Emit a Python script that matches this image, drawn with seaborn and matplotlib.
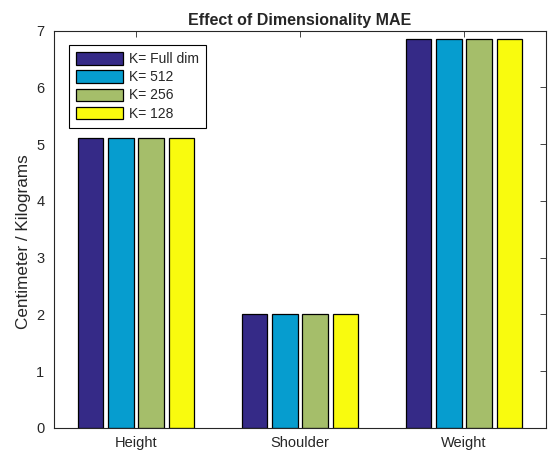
#!/usr/bin/env python3
import pandas as pd
import seaborn as sns
import matplotlib
matplotlib.use('Agg')
import matplotlib.pyplot as plt

# values
measures = ['Height', 'Shoulder', 'Weight']
dims = ['K= Full dim', 'K= 512', 'K= 256', 'K= 128']
mae_full = [5.10, 2.00, 6.85]
mae_512 = [5.10, 2.00, 6.85]
mae_256 = [5.10, 2.00, 6.85]
mae_128 = [5.10, 2.00, 6.85]
yticks = [0, 1, 2, 3, 4, 5, 6, 7]

colors = ['#352a87', '#069dcf', '#a5be6a', '#f9fb0e']  # parula-ish
axis_gray = '#262626'

rows = []
for dim, vals in zip(dims, [mae_full, mae_512, mae_256, mae_128]):
    for m, v in zip(measures, vals):
        rows.append({'measure': m, 'dim': dim, 'mae': v})
df = pd.DataFrame(rows)

sns.set_style('white')
plt.rcParams['font.family'] = ['Liberation Sans', 'DejaVu Sans']

fig = plt.figure(figsize=(5.58, 4.54), dpi=100)
ax = fig.add_axes([0.0968, 0.0573, 0.8817, 0.8755])

sns.barplot(
    data=df, x='measure', y='mae', hue='dim', order=measures, hue_order=dims,
    palette=colors, width=0.74, gap=0.15, edgecolor='black', linewidth=0.9,
    saturation=1, errorbar=None, ax=ax,
)

ax.set_xlim(-0.5, 2.5)
ax.set_ylim(0, 7)
ax.set_yticks(yticks)
ax.set(xlabel=None)
ax.set_ylabel('Centimeter / Kilograms', fontsize=12.3, color=axis_gray)
ax.yaxis.set_label_coords(-0.047, 0.468)
ax.set_title('Effect of Dimensionality MAE', fontsize=11.5, fontweight='bold', pad=4)

for s in ax.spines.values():
    s.set_color(axis_gray)
    s.set_linewidth(0.8)
ax.tick_params(direction='in', length=4, width=0.6, colors=axis_gray,
               labelsize=10.5, top=True, right=True)
ax.tick_params(axis='y', pad=7)
ax.tick_params(axis='x', pad=6)

leg = ax.legend(loc='upper left', bbox_to_anchor=(0.03, 0.963), borderaxespad=0,
                fontsize=10, handlelength=3.4, handleheight=1.0, labelspacing=0.3,
                handletextpad=0.45, borderpad=0.5, fancybox=False, framealpha=1,
                edgecolor='black')
leg.get_frame().set_linewidth(0.8)

plt.savefig('out.png', dpi=100)
